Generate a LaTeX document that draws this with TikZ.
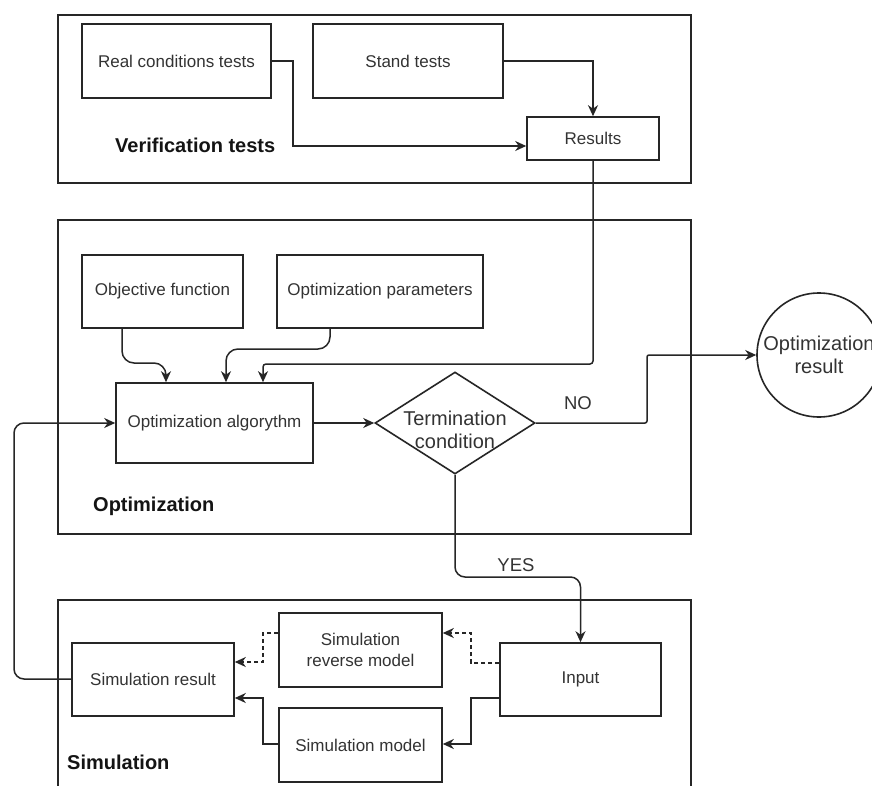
\documentclass[tikz,border=0pt]{standalone}
\usepackage{fontspec}
\setmainfont{Liberation Sans}
\usetikzlibrary{arrows.meta,shapes.geometric}
\definecolor{ln}{HTML}{262626}
\definecolor{tx}{HTML}{333333}
\begin{document}
\begin{tikzpicture}[x=1pt,y=-1pt,
  box/.style={draw=ln, line width=1.6pt, rectangle, inner sep=0pt, text=tx,
    font=\fontsize{17}{21}\selectfont, align=center},
  grp/.style={draw=ln, line width=1.6pt, rectangle, inner sep=0pt, anchor=north west},
  lbl/.style={font=\bfseries\fontsize{20}{24}\selectfont, text=black!92, anchor=west, inner sep=0pt},
  elbl/.style={font=\fontsize{18.5}{22}\selectfont, text=tx, inner sep=0pt},
  conn/.style={draw=ln, line width=1.5pt, -{Stealth[length=11pt,width=10pt,inset=3.5pt]}},
  dsh/.style={dash pattern=on 4pt off 3pt}
]
\useasboundingbox (0,0) rectangle (872,786);
\clip (0,0) rectangle (872,786);
\fill[white] (0,0) rectangle (872,786);

% group frames
\node[grp, minimum width=633, minimum height=168] (verif) at (57,14) {};
\node[grp, minimum width=633, minimum height=314] (optim) at (57,219) {};
\node[grp, minimum width=633, minimum height=201] (simul) at (57,599) {};

% verification tests
\node[box, minimum width=189, minimum height=74] (real) at (176.5,61) {Real conditions tests};
\node[box, minimum width=190, minimum height=74] (stand) at (408,61) {Stand tests};
\node[box, minimum width=132, minimum height=43] (results) at (593,138.5) {Results};
\node[lbl] (verifl) at (115,145) {Verification tests};

% optimization
\node[box, minimum width=161, minimum height=73] (objective) at (162.5,291.5) {Objective function};
\node[box, minimum width=206, minimum height=73] (params) at (380,291.5) {Optimization parameters};
\node[box, minimum width=197, minimum height=80] (algo) at (214.5,423) {Optimization algorythm};
\node[diamond, draw=ln, line width=1.6pt, minimum width=160, minimum height=102, inner sep=0pt] (term) at (455,423) {};
\node[font=\fontsize{20}{23}\selectfont, text=tx, align=center, inner sep=0pt] (termtext) at (455,430) {Termination\\condition};
\node[lbl] (optiml) at (93,506) {Optimization};
\node[circle, draw=ln, line width=1.6pt, minimum size=124, inner sep=0pt, text=tx,
  font=\fontsize{20}{23}\selectfont, align=center] (result) at (819,355) {Optimization\\result};

% simulation
\node[box, minimum width=162, minimum height=73] (simres) at (153,679.5) {Simulation result};
\node[box, minimum width=163, minimum height=74] (reverse) at (360.5,650) {Simulation\\reverse model};
\node[box, minimum width=161, minimum height=73] (input) at (580.5,679.5) {Input};
\node[box, minimum width=163, minimum height=74] (simmodel) at (360.5,745) {Simulation model};
\node[lbl] (simull) at (67,762) {Simulation};

% edge labels
\node[elbl] (nolbl) at (578,403) {NO};
\node[elbl] (yeslbl) at (516,565) {YES};

% connectors
\draw[conn] (real.east) -- (293,61) -- (293,146) -- (results.west |- 0,146);
\draw[conn] (stand.east) -| (results.north);
\draw[conn, rounded corners=3] (results.south) -- (593,364) -- (263,364) -- (algo.north -| 263,0);
\draw[conn, rounded corners=12] (objective.south -| 122,0) -- (122,363) -- (166,363) -- (algo.north -| 166,0);
\draw[conn, rounded corners=12] (params.south -| 330,0) -- (330,349) -- (226,349) -- (algo.north -| 226,0);
\draw[conn] (algo.east) -- (term.west);
\draw[conn, rounded corners=2] (term.east) -- (647,423) -- (647,355) -- (result.west);
\draw[conn, rounded corners=10] (term.south) -- (455,577) -- (580.5,577) -- (input.north);
\draw[conn, dsh] (input.west |- 0,663) -- (471,663) -- (471,633) -- (reverse.east |- 0,633);
\draw[conn] (input.west |- 0,698) -- (471,698) -- (471,744) -- (simmodel.east |- 0,744);
\draw[conn, dsh] (reverse.west |- 0,633) -- (263,633) -- (263,662) -- (simres.east |- 0,662);
\draw[conn] (simmodel.west |- 0,744) -- (263,744) -- (263,698) -- (simres.east |- 0,698);
\draw[conn, rounded corners=10] (simres.west |- 0,679) -- (14,679) -- (14,423) -- (algo.west);
\end{tikzpicture}
\end{document}
